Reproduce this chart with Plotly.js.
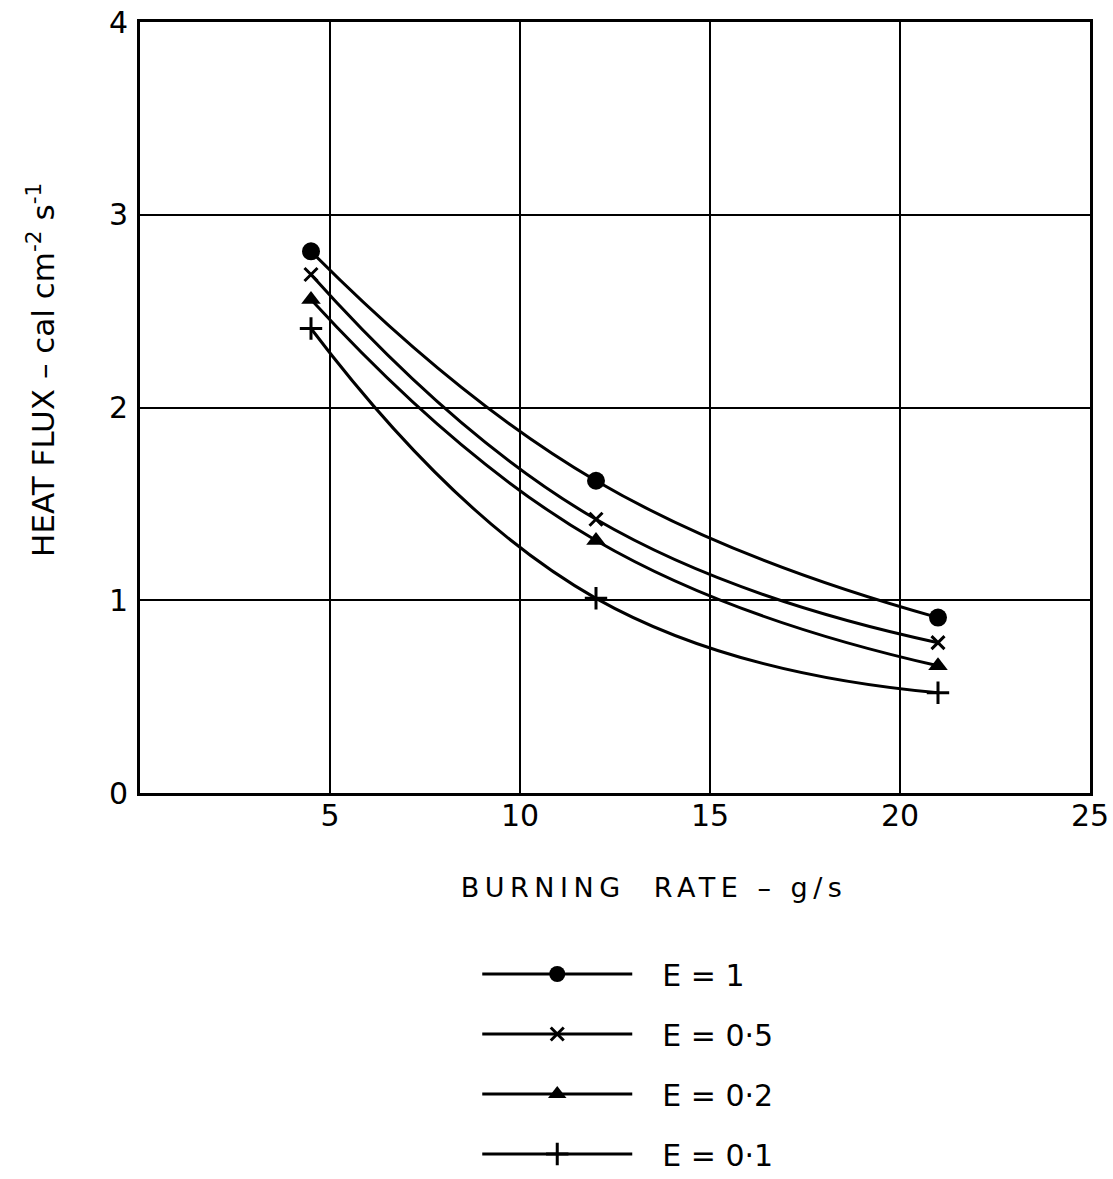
<!DOCTYPE html>
<html>
<head>
<meta charset="utf-8">
<script src="https://cdn.plot.ly/plotly-3.0.1.min.js"></script>
<style>
html,body{margin:0;padding:0;background:#fff;}
#chart{width:1113px;height:1179px;}
#chart .annotation[data-index="0"] .annotation-text{letter-spacing:5.5px;}
</style>
</head>
<body>
<div id="chart"></div>
<script>
// Data
const burningRate = [4.5, 12, 21];
const fluxE1  = [2.81, 1.62, 0.91];
const fluxE05 = [2.69, 1.42, 0.78];
const fluxE02 = [2.56, 1.31, 0.66];
const fluxE01 = [2.41, 1.01, 0.52];
const seriesNames = ['E = 1', 'E = 0·5', 'E = 0·2', 'E = 0·1'];
const xTicks = [5, 10, 15, 20, 25];
const yTicks = [0, 1, 2, 3, 4];

const FONT = 'DejaVu Sans, Liberation Sans, sans-serif';
const PAD = '\u00a0\u00a0\u2009';
const series = [fluxE1, fluxE05, fluxE02, fluxE01];
const markers = [
  {symbol: 'circle', size: 18},
  {symbol: 'x-thin', size: 13, line: {width: 3, color: '#000'}},
  {symbol: 'triangle-up', size: 17},
  {symbol: 'cross-thin', size: 16, line: {width: 3, color: '#000'}}
];

const traces = series.map((ys, i) => ({
  x: burningRate,
  y: ys,
  name: PAD + seriesNames[i],
  legendgroup: 'g' + i,
  mode: 'lines+markers',
  line: {shape: 'spline', smoothing: 1.3, color: '#000', width: 3},
  marker: Object.assign({color: '#000'}, markers[i]),
  hoverinfo: 'x+y'
}));

const layout = {
  width: 1113, height: 1179,
  margin: {l: 140, r: 23, t: 22, b: 386, autoexpand: false},
  paper_bgcolor: '#fff', plot_bgcolor: '#fff',
  font: {family: FONT, color: '#000', size: 30},
  showlegend: true,
  legend: {
    x: 0.355, y: -0.201, xanchor: 'left', yanchor: 'top',
    font: {family: FONT, size: 30, color: '#000'},
    tracegroupgap: 18, itemwidth: 150, borderwidth: 0,
    bgcolor: 'rgba(0,0,0,0)'
  },
  xaxis: {
    range: [0, 25], tickvals: xTicks, ticktext: xTicks.map(String),
    showline: true, mirror: true, linecolor: '#000', linewidth: 3,
    showgrid: true, gridcolor: '#000', gridwidth: 2,
    zeroline: false, ticks: '', ticklabelstandoff: -6,
    tickfont: {family: FONT, size: 30, color: '#000'}
  },
  yaxis: {
    range: [0, 4], tickvals: yTicks, ticktext: yTicks.map(String),
    showline: true, mirror: true, linecolor: '#000', linewidth: 3,
    showgrid: true, gridcolor: '#000', gridwidth: 2,
    zeroline: false, ticks: '', ticklabelstandoff: 3,
    tickfont: {family: FONT, size: 30, color: '#000'}
  },
  annotations: [{
    text: 'BURNING  RATE – g/s', xref: 'paper', yref: 'paper',
    x: 0.541, y: -0.122, xanchor: 'center', yanchor: 'middle',
    showarrow: false, font: {family: FONT, size: 27, color: '#000'}
  }, {
    text: 'HEAT FLUX – cal cm<sup>-2</sup> s<sup>-1</sup>', xref: 'paper', yref: 'paper',
    x: -0.104, y: 0.549, xanchor: 'center', yanchor: 'middle', textangle: -90,
    showarrow: false, font: {family: FONT, size: 31, color: '#000'}
  }]
};

Plotly.newPlot('chart', traces, layout, {displayModeBar: false, staticPlot: true});
</script>
</body>
</html>
